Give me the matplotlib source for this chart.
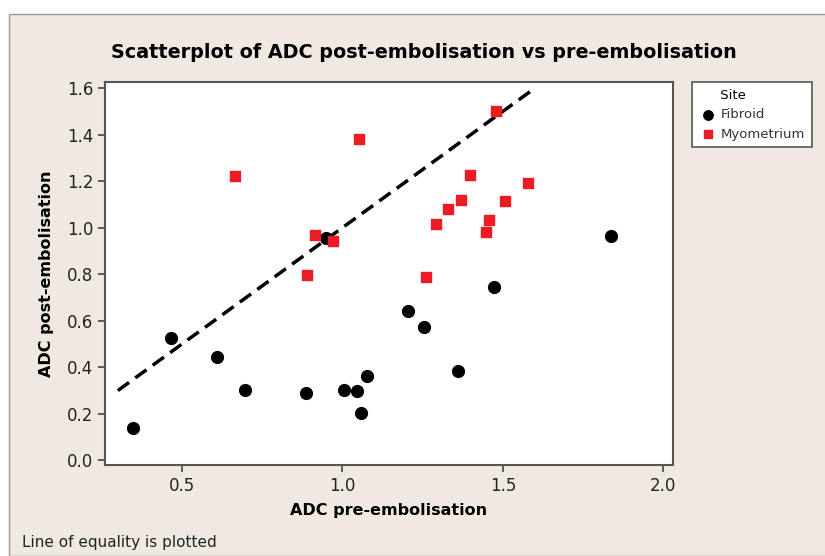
import numpy as np
import matplotlib.pyplot as plt
from matplotlib.patches import Rectangle

# ---------------------------------------------------------------------
# DATA
# ---------------------------------------------------------------------

fibroid_pre = [0.348, 0.465, 0.610, 0.695, 0.885, 0.949, 1.006, 1.044, 1.057,
               1.077, 1.203, 1.253, 1.360, 1.473, 1.836]
fibroid_post = [0.141, 0.526, 0.444, 0.304, 0.290, 0.956, 0.304, 0.297, 0.204,
                0.361, 0.640, 0.571, 0.384, 0.743, 0.966]

myo_pre = [0.666, 0.914, 0.971, 0.890, 1.052, 1.478, 1.398, 1.579, 1.370,
           1.330, 1.505, 1.290, 1.456, 1.447, 1.259]
myo_post = [1.223, 0.969, 0.943, 0.796, 1.379, 1.502, 1.225, 1.193, 1.118,
            1.082, 1.113, 1.014, 1.032, 0.981, 0.789]

equality_range = [0.3, 1.6]

x_ticks = [0.5, 1.0, 1.5, 2.0]
y_ticks = [0.0, 0.2, 0.4, 0.6, 0.8, 1.0, 1.2, 1.4, 1.6]

# ---------------------------------------------------------------------
# FIGURE
# ---------------------------------------------------------------------

plt.rcParams['font.family'] = ['DejaVu Sans']

fig = plt.figure(figsize=(8.25, 5.56), dpi=100)
fig.patch.set_facecolor('white')

# beige panel behind the chart (Minitab style)
W, H = 825, 556
panel = Rectangle((9 / W, 0), 1.0, 1 - 14 / H, transform=fig.transFigure,
                  facecolor='#EFE9E2', edgecolor='#9A9A9A', linewidth=1.0,
                  zorder=-5)
fig.patches.append(panel)

ax = fig.add_axes([105 / W, 1 - 465 / H, (673 - 105) / W, (465 - 82) / H])
ax.set_facecolor('white')

ax.plot(equality_range, equality_range, color='black', linestyle=(0, (4, 2.2)),
        linewidth=2.5, zorder=2)

ax.scatter(fibroid_pre, fibroid_post, s=72, marker='o', color='black',
           label='Fibroid', zorder=3)
ax.scatter(myo_pre, myo_post, s=60, marker='s', color='#ED1C24',
           label='Myometrium', zorder=3)

ax.set_xlim(0.26, 2.03)
ax.set_ylim(-0.02, 1.626)
ax.set_xticks(x_ticks)
ax.set_yticks(y_ticks)
ax.set_xticklabels([f"{t:.1f}" for t in x_ticks])
ax.set_yticklabels([f"{t:.1f}" for t in y_ticks])
ax.tick_params(direction='out', length=5, width=1.2, color='#444444',
               labelsize=12, labelcolor='#222222')

for sp in ax.spines.values():
    sp.set_color('#555555')
    sp.set_linewidth(1.5)

ax.set_xlabel("ADC pre-embolisation", fontsize=11.5, fontweight='bold',
              labelpad=6)
ax.set_ylabel("ADC post-embolisation", fontsize=11.5, fontweight='bold',
              labelpad=9)

fig.text(424 / W, 1 - 52 / H,
         "Scatterplot of ADC post-embolisation vs pre-embolisation",
         ha='center', va='center', fontsize=13.8, fontweight='bold')

fig.text(22 / W, 1 - 542 / H, "Line of equality is plotted",
         ha='left', va='center', fontsize=11, color='#222222')

leg = fig.legend(loc='upper left', bbox_to_anchor=(692 / W, 1 - 82 / H),
                 title='     Site', fontsize=9.5, title_fontsize=9.5,
                 frameon=True, fancybox=False, borderpad=0.5,
                 borderaxespad=0, alignment='left',
                 handletextpad=0.3, handlelength=1.4, markerscale=0.8,
                 labelcolor='#333333')
leg.get_frame().set_edgecolor('#555555')
leg.get_frame().set_linewidth(1.2)
leg.get_frame().set_facecolor('white')
leg.get_frame().set_alpha(1)

fig.savefig("out.png", dpi=100, facecolor=fig.get_facecolor())
